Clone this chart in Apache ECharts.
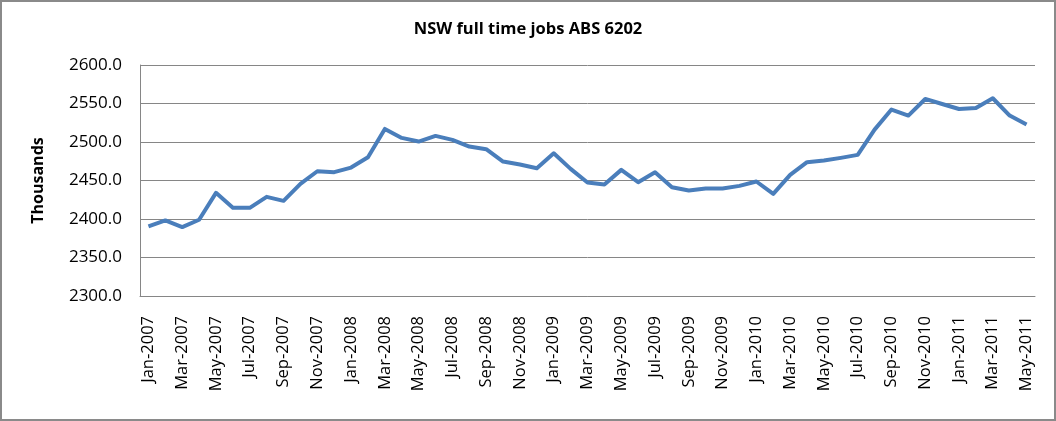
<!DOCTYPE html>
<html>
<head>
<meta charset="utf-8">
<script src="https://cdn.jsdelivr.net/npm/echarts@6/dist/echarts.min.js"></script>
<style>
  html, body { margin: 0; padding: 0; background: #fff; }
  #chart { width: 1056px; height: 421px; box-sizing: border-box; border: 2px solid #8a8a8a; }
</style>
</head>
<body>
<div id="chart"></div>
<script>
// monthly categories Jan-2007 .. May-2011
const months = ['Jan', 'Feb', 'Mar', 'Apr', 'May', 'Jun', 'Jul', 'Aug', 'Sep', 'Oct', 'Nov', 'Dec'];
const years = [2007, 2008, 2009, 2010, 2011];
const categories = [];
years.forEach(y => {
  months.forEach((m, i) => {
    if (y === 2011 && i > 4) return;
    categories.push(m + '-' + y);
  });
});

// full time jobs, thousands
const jobs = [
  2390.3, 2398.1, 2389.5, 2399.0, 2434.0, 2414.5, 2414.5, 2428.8, 2423.6, 2445.7, 2462.0, 2460.8,
  2466.8, 2480.2, 2517.0, 2505.3, 2500.6, 2507.9, 2502.7, 2494.1, 2490.6, 2474.6, 2470.7, 2466.0,
  2485.4, 2465.1, 2447.4, 2444.8, 2463.8, 2447.8, 2460.8, 2441.3, 2437.0, 2439.6, 2439.6, 2443.0,
  2448.7, 2432.7, 2457.3, 2473.8, 2475.9, 2479.4, 2483.3, 2516.1, 2542.1, 2534.3, 2555.9, 2549.4,
  2542.9, 2544.2, 2556.8, 2534.3, 2522.6
];

const yMin = 2300;
const yMax = 2600;
const yStep = 50;

const chart = echarts.init(document.getElementById('chart'));
chart.setOption({
  animation: false,
  title: {
    text: 'NSW full time jobs ABS 6202',
    left: 'center',
    top: 14,
    textStyle: { fontFamily: 'Open Sans', fontSize: 16.5, fontWeight: 'bold', color: '#000' }
  },
  grid: { left: 138, top: 63, right: 19, bottom: 123 },
  xAxis: {
    type: 'category',
    data: categories,
    boundaryGap: true,
    axisLine: { lineStyle: { color: '#868686', width: 1 } },
    axisTick: { show: false },
    axisLabel: {
      interval: 1,
      rotate: 90,
      margin: 20,
      fontFamily: 'Open Sans',
      fontSize: 16.5,
      color: '#000'
    }
  },
  yAxis: {
    type: 'value',
    min: yMin,
    max: yMax,
    interval: yStep,
    name: 'Thousands',
    nameLocation: 'middle',
    nameGap: 94,
    nameTextStyle: { fontFamily: 'Open Sans', fontSize: 16, fontWeight: 'bold', color: '#000' },
    axisLine: { show: true, lineStyle: { color: '#868686', width: 1 } },
    axisTick: { show: false },
    axisLabel: {
      margin: 18,
      fontFamily: 'Open Sans',
      fontSize: 17,
      color: '#000',
      formatter: v => v.toFixed(1)
    },
    splitLine: { lineStyle: { color: '#868686', width: 1 } }
  },
  series: [{
    type: 'line',
    data: jobs,
    symbol: 'none',
    lineStyle: { color: '#4a7ebb', width: 4, join: 'round' }
  }]
});
</script>
</body>
</html>
